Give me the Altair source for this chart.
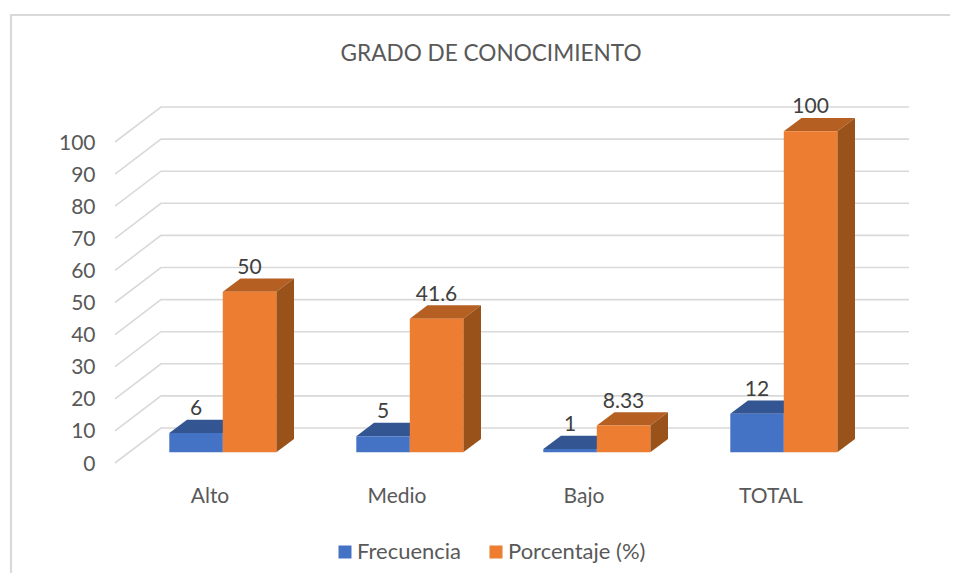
import altair as alt
import pandas as pd

categories = ["Alto", "Medio", "Bajo", "TOTAL"]
frecuencia = [6, 5, 1, 12]
porcentaje = [50, 41.6, 8.33, 100]
series_names = ["Frecuencia", "Porcentaje (%)"]
y_ticks = list(range(0, 101, 10))

W, H = 942, 565
PXX = 187.0
PXY = 3.21
X0_PAGE = 209.5
Y0_PAGE = 463.0


def ux(page):
    return (page - X0_PAGE) / PXX


def uy(page):
    return (Y0_PAGE - page) / PXY


BASE = uy(452.3)
BAR_W = 53.5 / PXX
DX = 17.7 / PXX
DY = 13.4 / PXY
BAR_LEFT = (169.3 - X0_PAGE) / PXX
x_scale = alt.Scale(domain=[ux(8), ux(8 + W)], range=[0, W], nice=False, zero=False)
y_scale = alt.Scale(domain=[uy(8 + H), uy(8)], range=[H, 0], nice=False, zero=False)

front, side, top, labels = [], [], [], []
for si, (name, vals) in enumerate(zip(series_names, [frecuencia, porcentaje])):
    for ci, (cat, v) in enumerate(zip(categories, vals)):
        l = ci + BAR_LEFT + si * BAR_W
        r = l + BAR_W
        t = BASE + v
        front.append(dict(s=name, c=cat, x=l, x2=r, y=BASE, y2=t))
        side += [dict(s=name, c=cat, x=r, y=BASE, y2=t),
                 dict(s=name, c=cat, x=r + DX, y=BASE + DY, y2=t + DY)]
        top += [dict(s=name, c=cat, y=t, x=l, x2=r),
                dict(s=name, c=cat, y=t + DY, x=l + DX, x2=r + DX)]
        labels.append(dict(s=name, c=cat, x=(l + r) / 2, y=t + DY + 10.5 / PXY, t=f"{v:g}"))
front, side, top, labels = map(pd.DataFrame, (front, side, top, labels))

BACK = uy(428)
grid = []
for tk in y_ticks:
    grid += [dict(t=tk, o=0, x=ux(115), y=tk),
             dict(t=tk, o=1, x=ux(161), y=tk + BACK),
             dict(t=tk, o=2, x=ux(909), y=tk + BACK)]
grid = pd.DataFrame(grid)

frame_pts = pd.DataFrame([
    dict(o=0, x=ux(11), y=uy(8 + H)),
    dict(o=1, x=ux(11), y=uy(15)),
    dict(o=2, x=ux(8 + W), y=uy(15)),
])

x_axis = alt.Axis(
    values=[0, 1, 2, 3],
    labelExpr="['Alto','Medio','Bajo','TOTAL'][datum.value]",
    title=None, domain=False, ticks=False, grid=False, offset=-(565 - 488),
    labelFontSize=21, labelColor="#595959", labelFont="Lato", labelPadding=0,
    labelBaseline="middle",
)
y_axis = alt.Axis(
    values=y_ticks, title=None, domain=False, ticks=False, grid=False,
    offset=-87, labelFontSize=21, labelColor="#595959", labelFont="Lato", labelPadding=0,
    labelAlign="right", labelBaseline="middle", labelOffset=1,
)
X = alt.X("x:Q", scale=x_scale, axis=x_axis)
Y = alt.Y("y:Q", scale=y_scale, axis=y_axis)

frame = alt.Chart(frame_pts).mark_line(color="#d9d9d9", strokeWidth=2.2).encode(x=X, y=Y, order="o:Q")
grid_layer = alt.Chart(grid).mark_line(color="#d9d9d9", strokeWidth=1.6).encode(
    x=X, y=Y, detail="t:N", order="o:Q",
)

color_scale = alt.Scale(domain=series_names, range=["#4472c4", "#ed7d31"])
layers = [frame, grid_layer]
shades = {series_names[0]: ("#335591", "#2b4a80"), series_names[1]: ("#b65f23", "#9a521b")}
for name in series_names:
    top_c, side_c = shades[name]
    layers.append(alt.Chart(top[top.s == name]).mark_area(orient="horizontal", color=top_c, opacity=1).encode(
        y=Y, x=X, x2="x2:Q", detail="c:N"))
    layers.append(alt.Chart(side[side.s == name]).mark_area(orient="vertical", color=side_c, opacity=1).encode(
        x=X, y=Y, y2="y2:Q", detail="c:N"))
    layers.append(alt.Chart(front[front.s == name]).mark_rect().encode(
        x=X, x2="x2:Q", y=Y, y2="y2:Q",
        color=alt.Color("s:N", scale=color_scale, legend=alt.Legend(
            orient="none", legendX=326, legendY=533, direction="horizontal", title=None,
            symbolType="square", symbolSize=169, symbolStrokeWidth=0, labelFontSize=22,
            labelFont="Lato", labelColor="#595959", columnPadding=23, labelOffset=1,
            values=series_names,
        )),
    ))

text_layer = alt.Chart(labels).mark_text(fontSize=21, font="Lato", color="#404040", baseline="middle").encode(
    x=X, y=Y, text="t:N"
)
layers.append(text_layer)

chart = alt.layer(*layers).properties(
    width=W, height=H, padding=0,
    autosize=alt.AutoSizeParams(type="none"),
    title=alt.TitleParams(
        "GRADO DE CONOCIMIENTO", font="Lato", fontSize=22.6, fontWeight="normal", color="#595959",
        anchor="middle", frame="group", offset=0, dy=58, dx=12,
    ),
).configure_view(stroke=None)

chart.save("out.html", embed_options={"renderer": "svg", "actions": False})
